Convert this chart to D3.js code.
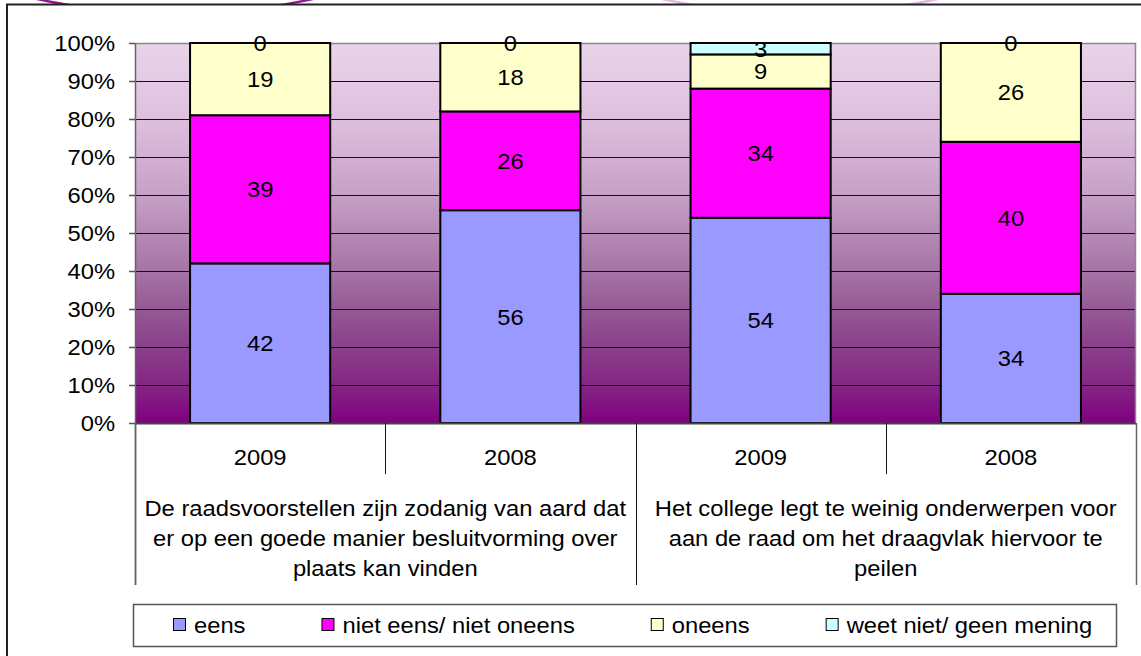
<!DOCTYPE html>
<html>
<head>
<meta charset="utf-8">
<script src="https://cdn.jsdelivr.net/npm/d3@7"></script>
<style>
  body { margin: 0; background: #fff; }
  text { font-family: 'Liberation Sans', Arial, sans-serif; fill: #000; }
</style>
</head>
<body>
<div id="chart"></div>
<script>
const years = ['2009', '2008', '2009', '2008'];

const groupLabels = [
  ['De raadsvoorstellen zijn zodanig van aard dat', 'er op een goede manier besluitvorming over', 'plaats kan vinden'],
  ['Het college legt te weinig onderwerpen voor', 'aan de raad om het draagvlak hiervoor te', 'peilen'],
];

const seriesNames = ['eens', 'niet eens/ niet oneens', 'oneens', 'weet niet/ geen mening'];
const eens = [42, 56, 54, 34];
const nietEens = [39, 26, 34, 40];
const oneens = [19, 18, 9, 26];
const weetNiet = [0, 0, 3, 0];

const yTicks = [0, 10, 20, 30, 40, 50, 60, 70, 80, 90, 100];

const colors = ['#9999ff', '#ff00ff', '#ffffcc', '#ccffff'];

const width = 1141,
  height = 656,
  plotLeft = 135,
  plotRight = 1136,
  plotTop = 43,
  plotBottom = 423,
  stretch = 1.08,
  fontSize = 22;

// the original picture is a little stretched horizontally, so texts get a scale
function place(sel, x, y) {
  return sel.attr('transform', `translate(${x},${y}) scale(${stretch},1)`);
}

const svg = d3
  .select('#chart')
  .append('svg')
  .attr('width', width)
  .attr('height', height);

// bits of the purple rings peeking above the frame
svg
  .append('circle')
  .attr('cx', 175)
  .attr('cy', -623)
  .attr('r', 637)
  .attr('fill', 'none')
  .attr('stroke', '#8a1a8a')
  .attr('stroke-width', 2.5);

svg
  .append('circle')
  .attr('cx', 800)
  .attr('cy', -623)
  .attr('r', 637)
  .attr('fill', 'none')
  .attr('stroke', '#e0b8e0')
  .attr('stroke-width', 2.5);

svg
  .append('rect')
  .attr('x', 7)
  .attr('y', 4.5)
  .attr('width', 1300)
  .attr('height', 800)
  .attr('fill', '#fff')
  .attr('stroke', '#222')
  .attr('stroke-width', 2);

const defs = svg.append('defs');
const grad = defs
  .append('linearGradient')
  .attr('id', 'bg')
  .attr('x1', 0)
  .attr('y1', 0)
  .attr('x2', 0)
  .attr('y2', 1);

[
  ['0%', '#e9d4e9'],
  ['10%', '#e4cae4'],
  ['20%', '#ddbfdd'],
  ['30%', '#d3b0d3'],
  ['40%', '#c6a0c6'],
  ['50%', '#b68ab6'],
  ['60%', '#a574a5'],
  ['70%', '#955995'],
  ['80%', '#8a408a'],
  ['90%', '#842684'],
  ['100%', '#800080'],
].forEach(([o, c]) => grad.append('stop').attr('offset', o).attr('stop-color', c));

const x = d3
  .scaleBand()
  .domain(d3.range(years.length))
  .range([plotLeft, plotRight])
  .paddingInner(0.44)
  .paddingOuter(0.22);

const y = d3.scaleLinear().domain([0, 100]).range([plotBottom, plotTop]);

svg
  .append('rect')
  .attr('x', plotLeft)
  .attr('y', plotTop)
  .attr('width', plotRight - plotLeft)
  .attr('height', plotBottom - plotTop)
  .attr('fill', 'url(#bg)');

svg
  .append('g')
  .selectAll('line')
  .data(yTicks.slice(1, -1))
  .enter()
  .append('line')
  .attr('x1', plotLeft)
  .attr('x2', plotRight)
  .attr('y1', (d) => y(d) + 0.5)
  .attr('y2', (d) => y(d) + 0.5)
  .attr('stroke', '#111')
  .attr('stroke-width', 1);

// plot frame top and right
svg
  .append('path')
  .attr('d', `M${plotLeft},${plotTop + 0.5}H${plotRight - 0.5}V${plotBottom}`)
  .attr('fill', 'none')
  .attr('stroke', '#888')
  .attr('stroke-width', 1.5);

const rows = years.map((yr, i) => ({
  i,
  eens: eens[i],
  nietEens: nietEens[i],
  oneens: oneens[i],
  weetNiet: weetNiet[i],
}));

const stack = d3.stack().keys(['eens', 'nietEens', 'oneens', 'weetNiet'])(rows);

const layers = svg
  .append('g')
  .selectAll('g')
  .data(stack)
  .enter()
  .append('g')
  .attr('fill', (d, k) => colors[k]);

layers
  .selectAll('rect')
  .data((d) => d)
  .enter()
  .append('rect')
  .attr('x', (d) => x(d.data.i))
  .attr('y', (d) => y(d[1]))
  .attr('width', x.bandwidth())
  .attr('height', (d) => y(d[0]) - y(d[1]))
  .attr('stroke', '#000')
  .attr('stroke-width', 2);

layers
  .selectAll('text')
  .data((d) => d)
  .enter()
  .append('text')
  .attr('text-anchor', 'middle')
  .attr('dy', '0.36em')
  .style('font-size', `${fontSize}px`)
  .style('fill', '#000')
  .each(function (d) {
    place(d3.select(this), x(d.data.i) + x.bandwidth() / 2, y((d[0] + d[1]) / 2));
  })
  .text((d) => d[1] - d[0]);

// y axis
const yAxis = svg.append('g');
yAxis
  .append('line')
  .attr('x1', plotLeft + 0.5)
  .attr('x2', plotLeft + 0.5)
  .attr('y1', plotTop)
  .attr('y2', 585)
  .attr('stroke', '#666')
  .attr('stroke-width', 1.5);

yAxis
  .selectAll('.tick')
  .data(yTicks)
  .enter()
  .append('line')
  .attr('x1', plotLeft - 6)
  .attr('x2', plotLeft)
  .attr('y1', (d) => y(d) + 0.5)
  .attr('y2', (d) => y(d) + 0.5)
  .attr('stroke', '#555')
  .attr('stroke-width', 1.5);

yAxis
  .selectAll('text')
  .data(yTicks)
  .enter()
  .append('text')
  .attr('text-anchor', 'end')
  .attr('dy', '0.36em')
  .style('font-size', `${fontSize}px`)
  .each(function (d) {
    place(d3.select(this), 115, y(d));
  })
  .text((d) => `${d}%`);

// x axis
svg
  .append('line')
  .attr('x1', plotLeft)
  .attr('x2', plotRight)
  .attr('y1', plotBottom + 0.5)
  .attr('y2', plotBottom + 0.5)
  .attr('stroke', '#444')
  .attr('stroke-width', 2);

const step = x.step();
const dividers = d3.range(years.length + 1).map((k) => plotLeft + k * step);

svg
  .append('g')
  .selectAll('line')
  .data(dividers)
  .enter()
  .append('line')
  .attr('x1', (d) => Math.round(d) + 0.5)
  .attr('x2', (d) => Math.round(d) + 0.5)
  .attr('y1', plotBottom)
  .attr('y2', (d, k) => (k % 2 === 0 ? 585 : 474))
  .attr('stroke', (d, k) => (k === 0 || k === years.length ? '#666' : '#111'))
  .attr('stroke-width', (d, k) => (k === 0 || k === years.length ? 1.5 : 1));

svg
  .append('g')
  .selectAll('text')
  .data(years)
  .enter()
  .append('text')
  .attr('text-anchor', 'middle')
  .attr('dy', '0.36em')
  .style('font-size', `${fontSize}px`)
  .each(function (d, i) {
    place(d3.select(this), x(i) + x.bandwidth() / 2, 457);
  })
  .text((d) => d);

groupLabels.forEach((lines, g) => {
  const cx = plotLeft + step * (2 * g + 1);
  svg
    .append('g')
    .selectAll('text')
    .data(lines)
    .enter()
    .append('text')
    .attr('text-anchor', 'middle')
    .attr('dy', '0.36em')
    .style('font-size', `${fontSize}px`)
    .each(function (d, j) {
      place(d3.select(this), cx, 508 + j * 30);
    })
    .text((d) => d);
});

// legend
const legend = svg.append('g');
legend
  .append('rect')
  .attr('x', 133.5)
  .attr('y', 604.5)
  .attr('width', 983)
  .attr('height', 42)
  .attr('fill', '#fff')
  .attr('stroke', '#555')
  .attr('stroke-width', 1.5);

let cursor = 173;
seriesNames.forEach((name, k) => {
  legend
    .append('rect')
    .attr('x', cursor + 0.5)
    .attr('y', 618.5)
    .attr('width', 12)
    .attr('height', 12)
    .attr('fill', colors[k])
    .attr('stroke', '#000')
    .attr('stroke-width', 1);
  const t = legend
    .append('text')
    .style('font-size', `${fontSize}px`)
    .attr('dy', '0.36em')
    .text(name);
  place(t, cursor + 21, 625);
  cursor += 21 + t.node().getComputedTextLength() * stretch + 76;
});
</script>
</body>
</html>
